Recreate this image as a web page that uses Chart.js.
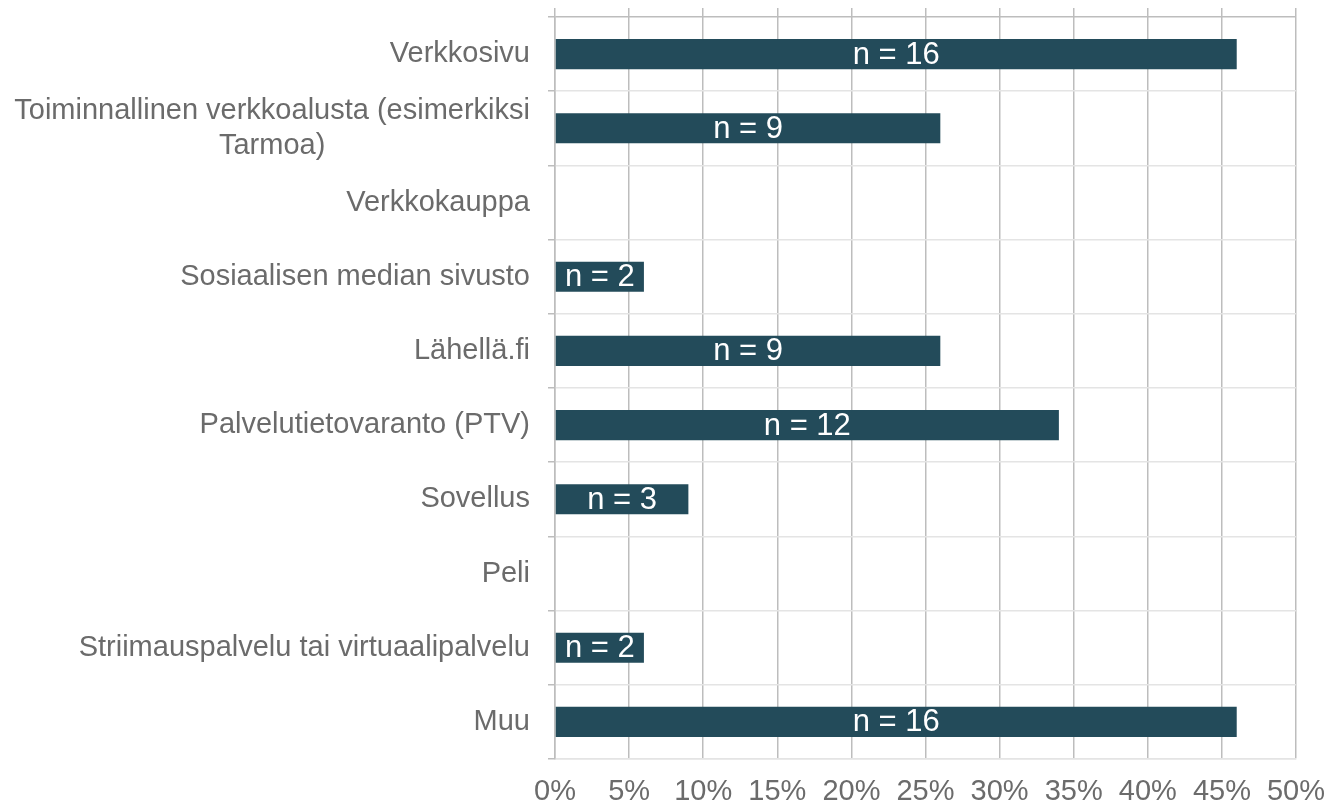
<!DOCTYPE html>
<html>
<head>
<meta charset="utf-8">
<script src="https://cdn.jsdelivr.net/npm/chart.js@4.4.0/dist/chart.umd.min.js"></script>
<style>
  html, body { margin: 0; padding: 0; background: #fff; }
  #wrap { width: 1343px; height: 810px; }
</style>
</head>
<body>
<div id="wrap"><canvas id="myChart"></canvas></div>
<script>
// data
const categories = [
  "Verkkosivu",
  ["Toiminnallinen verkkoalusta (esimerkiksi", "Tarmoa)"],
  "Verkkokauppa",
  "Sosiaalisen median sivusto",
  "Lähellä.fi",
  "Palvelutietovaranto (PTV)",
  "Sovellus",
  "Peli",
  "Striimauspalvelu tai virtuaalipalvelu",
  "Muu",
];
const shares = [46, 26, 0, 6, 26, 34, 9, 0, 6, 46]; // % of respondents
const counts = [16, 9, 0, 2, 9, 12, 3, 0, 2, 16];   // n inside the bars
const axisMax = 50;
const axisStep = 5;

const FONT = "'Liberation Sans', Arial, sans-serif";
const textGray = "#6b6b6b";
const barColor = "#234b5a";
const gridDark = "#bdbdbd";
const gridLight = "#e4e4e4";

// category labels: right aligned, extra lines centred under the first
const categoryLabels = {
  id: "categoryLabels",
  afterDraw(chart) {
    const ctx = chart.ctx;
    const y = chart.scales.y;
    const right = 530;
    const lineH = 35;
    ctx.save();
    ctx.font = "29px " + FONT;
    ctx.fillStyle = textGray;
    ctx.textBaseline = "middle";
    categories.forEach((lab, i) => {
      const lines = Array.isArray(lab) ? lab : [lab];
      const cy = y.getPixelForTick(i);
      const top = cy - ((lines.length - 1) * lineH) / 2;
      const w0 = ctx.measureText(lines[0]).width;
      lines.forEach((ln, j) => {
        if (j === 0) {
          ctx.textAlign = "right";
          ctx.fillText(ln, right, top);
        } else {
          ctx.textAlign = "center";
          ctx.fillText(ln, right - w0 / 2, top + j * lineH);
        }
      });
    });
    ctx.restore();
  },
};

// "n = .." inside the bars
const barLabels = {
  id: "barLabels",
  afterDatasetsDraw(chart) {
    const ctx = chart.ctx;
    const meta = chart.getDatasetMeta(0);
    ctx.save();
    ctx.font = "31px " + FONT;
    ctx.fillStyle = "#ffffff";
    ctx.textAlign = "center";
    ctx.textBaseline = "middle";
    meta.data.forEach((bar, i) => {
      if (!counts[i]) return;
      ctx.fillText("n = " + counts[i], (bar.x + bar.base) / 2, bar.y + 1);
    });
    ctx.restore();
  },
};

const chart = new Chart(document.getElementById("myChart").getContext("2d"), {
  type: "bar",
  data: {
    labels: categories,
    datasets: [
      {
        data: shares,
        backgroundColor: barColor,
        borderWidth: 0,
        categoryPercentage: 1,
        barPercentage: 0.405,
      },
    ],
  },
  options: {
    indexAxis: "y",
    responsive: true,
    maintainAspectRatio: false,
    animation: false,
    layout: { padding: { top: 8, right: 47, left: 0, bottom: 0 } },
    plugins: {
      legend: { display: false },
      tooltip: { enabled: false },
    },
    scales: {
      x: {
        type: "linear",
        position: "bottom",
        min: 0,
        max: axisMax,
        ticks: {
          stepSize: axisStep,
          padding: 16,
          color: textGray,
          font: { family: FONT, size: 29 },
          callback: (v) => v + "%",
        },
        grid: { color: gridDark, lineWidth: 1.5, drawTicks: false },
        border: { color: gridLight, width: 1.5 },
        afterFit: (s) => { s.height = 51; },
      },
      x2: {
        type: "linear",
        position: "top",
        min: 0,
        max: axisMax,
        ticks: { stepSize: axisStep, display: false },
        grid: { color: gridDark, lineWidth: 1.5, drawOnChartArea: false, drawTicks: true, tickLength: 9 },
        border: { display: false },
        afterFit: (s) => { s.height = 9; },
      },
      y: {
        ticks: { display: false },
        grid: {
          color: (c) => (c.index === 0 ? gridDark : gridLight),
          lineWidth: 1.5,
          tickColor: gridDark,
          drawTicks: true,
          tickLength: 7,
        },
        border: { color: gridDark, width: 1.5 },
        afterFit: (s) => { s.width = 555; },
      },
    },
  },
  plugins: [categoryLabels, barLabels],
});
</script>
</body>
</html>
